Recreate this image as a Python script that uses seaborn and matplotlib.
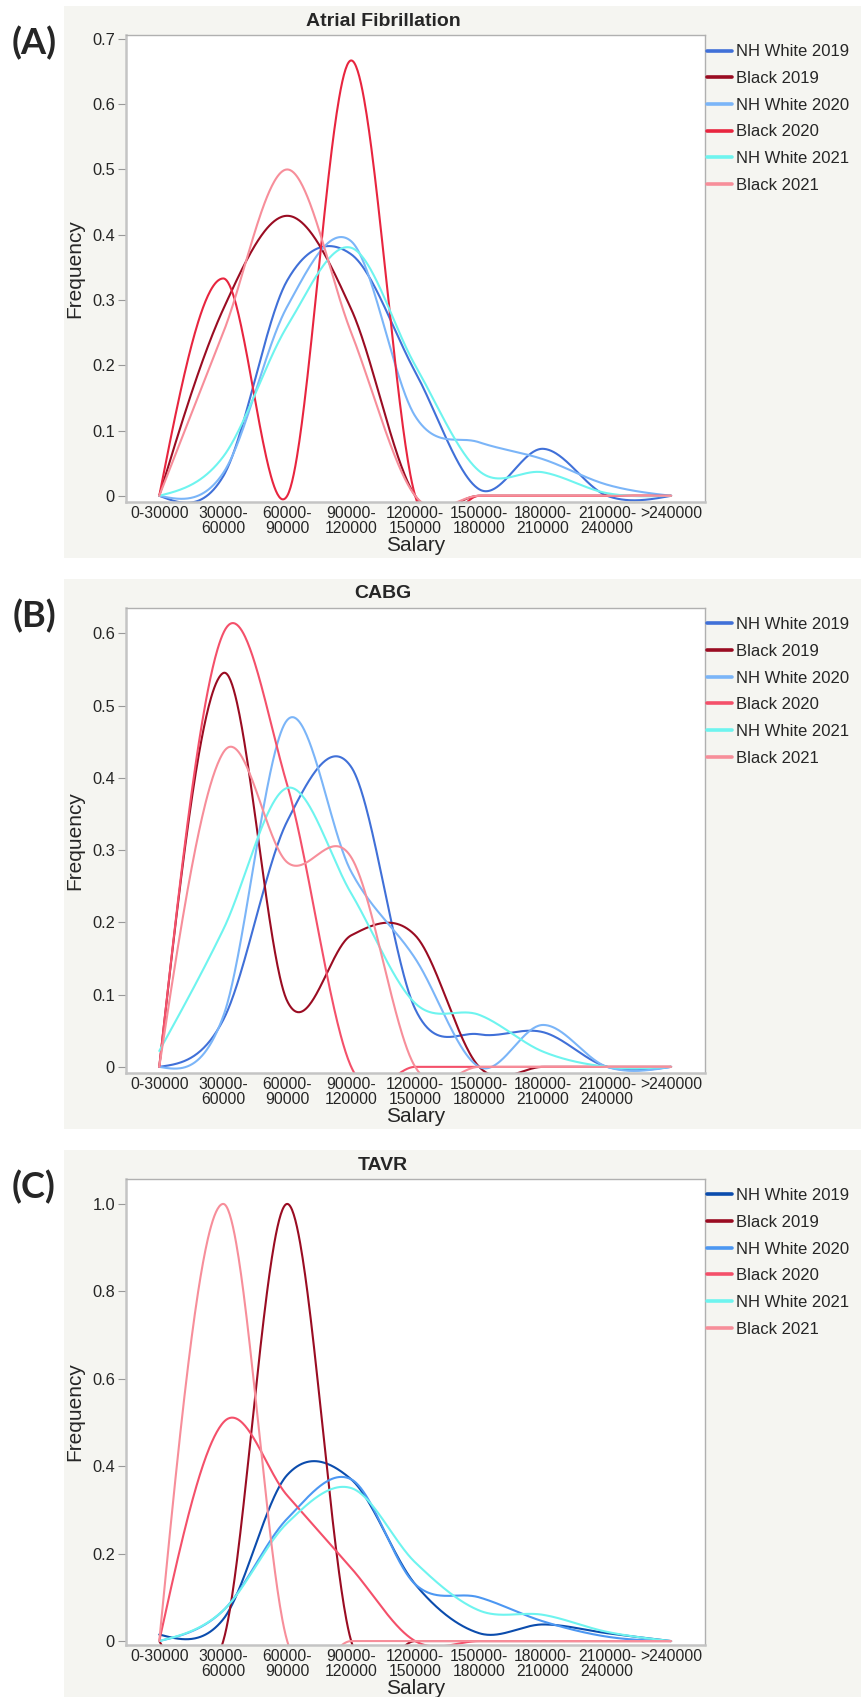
import numpy as np
import pandas as pd
import matplotlib
matplotlib.use("Agg")
import matplotlib.pyplot as plt
import seaborn as sns
from matplotlib.patches import Rectangle

sns.set_style("white")
plt.rcParams['font.family'] = ['Liberation Sans', 'DejaVu Sans']

# salary bins on the x axis
salary_labels = ['0-30000', '30000-\n60000', '60000-\n90000', '90000-\n120000',
                 '120000-\n150000', '150000-\n180000', '180000-\n210000',
                 '210000-\n240000', '>240000']
series_names = ['NH White 2019', 'Black 2019', 'NH White 2020',
                'Black 2020', 'NH White 2021', 'Black 2021']

# (A) Atrial Fibrillation
afib_nhw_2019 = [0, 0.03, 0.33, 0.37, 0.19, 0.01, 0.072, 0.0, 0]
afib_blk_2019 = [0, 0.286, 0.429, 0.286, 0, 0, 0, 0, 0]
afib_nhw_2020 = [0, 0.035, 0.29, 0.39, 0.122, 0.082, 0.056, 0.017, 0]
afib_blk_2020 = [0, 0.333, 0, 0.667, 0, 0, 0, 0, 0]
afib_nhw_2021 = [0, 0.06, 0.26, 0.38, 0.2, 0.038, 0.036, 0.004, 0]
afib_blk_2021 = [0, 0.25, 0.5, 0.25, 0, 0, 0, 0, 0]

# (B) CABG
cabg_nhw_2019 = [0, 0.065, 0.34, 0.415, 0.08, 0.045, 0.048, 0, 0]
cabg_blk_2019 = [0, 0.545, 0.091, 0.182, 0.182, 0, 0, 0, 0]
cabg_nhw_2020 = [0, 0.07, 0.48, 0.27, 0.15, 0, 0.058, 0, 0]
cabg_blk_2020 = [0, 0.6, 0.39, 0, 0, 0, 0, 0, 0]
cabg_nhw_2021 = [0.022, 0.19, 0.386, 0.24, 0.088, 0.072, 0.021, 0, 0]
cabg_blk_2021 = [0, 0.435, 0.283, 0.29, 0, 0, 0, 0, 0]

# (C) TAVR
tavr_nhw_2019 = [0.015, 0.05, 0.38, 0.37, 0.13, 0.018, 0.038, 0.018, 0]
tavr_blk_2019 = [0, 0, 1.0, 0, 0, 0, 0, 0, 0]
tavr_nhw_2020 = [0, 0.07, 0.28, 0.37, 0.13, 0.10, 0.045, 0.01, 0]
tavr_blk_2020 = [0, 0.5, 0.333, 0.167, 0, 0, 0, 0, 0]
tavr_nhw_2021 = [0, 0.07, 0.27, 0.35, 0.18, 0.07, 0.06, 0.021, 0]
tavr_blk_2021 = [0, 1.0, 0, 0, 0, 0, 0, 0, 0]

panel_titles = ['Atrial Fibrillation', 'CABG', 'TAVR']
panel_tags = ['(A)', '(B)', '(C)']
panel_data = [
    [afib_nhw_2019, afib_blk_2019, afib_nhw_2020, afib_blk_2020, afib_nhw_2021, afib_blk_2021],
    [cabg_nhw_2019, cabg_blk_2019, cabg_nhw_2020, cabg_blk_2020, cabg_nhw_2021, cabg_blk_2021],
    [tavr_nhw_2019, tavr_blk_2019, tavr_nhw_2020, tavr_blk_2020, tavr_nhw_2021, tavr_blk_2021],
]
panel_ticks = [[0, 0.1, 0.2, 0.3, 0.4, 0.5, 0.6, 0.7],
               [0, 0.1, 0.2, 0.3, 0.4, 0.5, 0.6],
               [0, 0.2, 0.4, 0.6, 0.8, 1.0]]
panel_ticklabels = [['0', '0.1', '0.2', '0.3', '0.4', '0.5', '0.6', '0.7'],
                    ['0', '0.1', '0.2', '0.3', '0.4', '0.5', '0.6'],
                    ['0', '0.2', '0.4', '0.6', '0.8', '1.0']]
panel_ylims = [(-0.0095, 0.706), (-0.0085, 0.635), (-0.009, 1.057)]
panel_colors = [
    ['#4070d8', '#9a0c22', '#7bb5f8', '#e8253f', '#6ef4ef', '#f78e9a'],
    ['#4070d8', '#9a0c22', '#7bb5f8', '#f4506a', '#6ef4ef', '#f78e9a'],
    ['#0b4cad', '#9a0c22', '#4c97f2', '#f4506a', '#6ef4ef', '#f78e9a'],
]


def smooth_curve(y, n=80):
    # Catmull-Rom style Hermite curve through the bin values
    y = np.asarray(y, dtype=float)
    k = len(y)
    m = np.zeros(k)
    m[1:-1] = (y[2:] - y[:-2]) / 2
    m[0] = (3 * (y[1] - y[0]) - m[1]) / 2
    m[-1] = (3 * (y[-1] - y[-2]) - m[-2]) / 2
    t = np.linspace(0, 1, n)
    h00 = 2 * t ** 3 - 3 * t ** 2 + 1
    h10 = t ** 3 - 2 * t ** 2 + t
    h01 = -2 * t ** 3 + 3 * t ** 2
    h11 = t ** 3 - t ** 2
    xs, ys = [], []
    for i in range(k - 1):
        xs.append(i + t)
        ys.append(h00 * y[i] + h10 * m[i] + h01 * y[i + 1] + h11 * m[i + 1])
    return np.concatenate(xs), np.concatenate(ys)


W, H = 861, 1697
fig = plt.figure(figsize=(W / 100, H / 100), dpi=100)

# pixel layout of each panel: gray box top/bottom, axes top/bottom
boxes = [(6, 558), (579, 1129), (1150, 1697)]
axes_tb = [(35, 502), (608, 1073), (1179, 1645)]
ax_left, ax_right = 126, 705

for p in range(3):
    bt, bb = boxes[p]
    fig.patches.append(Rectangle((64 / W, 1 - bb / H), (W - 64) / W, (bb - bt) / H,
                                 transform=fig.transFigure, facecolor='#f5f5f1',
                                 edgecolor='none', zorder=-5))
    at, ab = axes_tb[p]
    ax = fig.add_axes([ax_left / W, 1 - ab / H, (ax_right - ax_left) / W, (ab - at) / H])
    ax.set_facecolor('white')

    rows = []
    for name, vals in zip(series_names, panel_data[p]):
        xs, ys = smooth_curve(vals)
        rows.append(pd.DataFrame({'x': xs, 'Frequency': ys, 'series': name}))
    df = pd.concat(rows, ignore_index=True)
    sns.lineplot(data=df, x='x', y='Frequency', hue='series', hue_order=series_names,
                 palette=dict(zip(series_names, panel_colors[p])), sort=False,
                 linewidth=1.5, ax=ax)

    ax.set_xlim(-0.52, 8.53)
    ax.set_ylim(*panel_ylims[p])
    ax.set_xticks(range(len(salary_labels)))
    ax.set_xticklabels(salary_labels, fontsize=11.3, linespacing=0.95)
    ax.set_yticks(panel_ticks[p])
    ax.set_yticklabels(panel_ticklabels[p], fontsize=11.8)
    ax.tick_params(axis='x', length=0, pad=3)
    ax.tick_params(axis='y', length=6, width=0.8, color='#999999', pad=2, left=True)

    for side in ['left', 'bottom']:
        ax.spines[side].set_color('#c4c4c4')
        ax.spines[side].set_linewidth(1.8)
    for side in ['top', 'right']:
        ax.spines[side].set_color('#b0b0b0')
        ax.spines[side].set_linewidth(1.0)

    ax.set_xlabel('Salary', fontsize=15)
    ax.set_ylabel('Frequency', fontsize=15)
    ax.xaxis.set_label_coords(0.5, -(536 - 502) / 467)
    ax.yaxis.set_label_coords(-(126 - 84) / (ax_right - ax_left), 0.5)

    sns.move_legend(ax, 'upper left', bbox_to_anchor=(1.004, 0.98), frameon=False,
                    title=None, fontsize=12, borderpad=0, borderaxespad=0,
                    labelspacing=0.7, handlelength=1.5, handletextpad=0.25)
    for line in ax.get_legend().get_lines():
        line.set_linewidth(2.6)

    fig.text(383 / W, 1 - (at - 14) / H, panel_titles[p], ha='center', va='center',
             fontsize=14, fontweight='bold')
    fig.text(34 / W, 1 - (at + 8) / H, panel_tags[p], ha='center', va='center',
             fontsize=26, fontweight='bold', family=['Lato', 'DejaVu Sans'])

fig.savefig('out.png', dpi=100, facecolor='white')
